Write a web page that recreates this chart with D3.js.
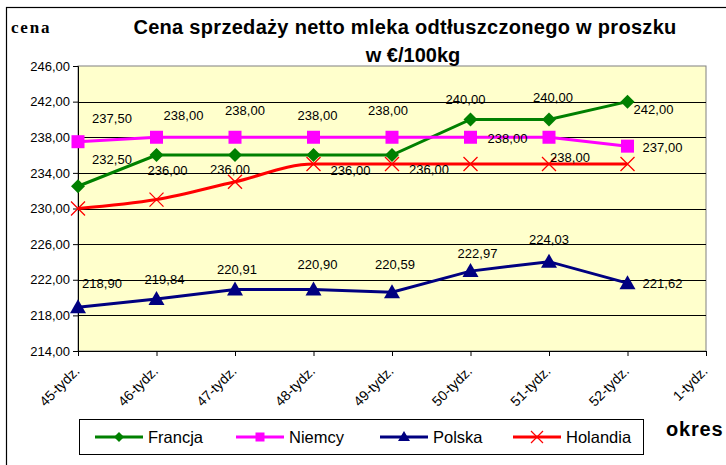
<!DOCTYPE html>
<html>
  <head>
    <meta charset="UTF-8" />
    <script src="https://d3js.org/d3.v7.min.js"></script>
    <style>
      body { margin: 0; background: #fff; }
      text { font-family: Arial, "Liberation Sans", sans-serif; }
    </style>
  </head>
  <body>
    <div id="chart"></div>

    <script>
      // categories and series
      var weeks = ["45-tydz.", "46-tydz.", "47-tydz.", "48-tydz.", "49-tydz.", "50-tydz.", "51-tydz.", "52-tydz.", "1-tydz."];
      var francja = [232.5, 236.0, 236.0, 236.0, 236.0, 240.0, 240.0, 242.0];
      var niemcy = [237.5, 238.0, 238.0, 238.0, 238.0, 238.0, 238.0, 237.0];
      var polska = [218.9, 219.84, 220.91, 220.9, 220.59, 222.97, 224.03, 221.62];
      var holandia = [230.0, 231.0, 233.0, 235.0, 235.0, 235.0, 235.0, 235.0];
      var yTicks = [214, 218, 222, 226, 230, 234, 238, 242, 246];

      // label placement (dx, dy from point), as moved by hand in the original
      var shiftFrancja = [[34, -27], [11, 15], [-5, 14], [37, 15], [37, 14], [-5, -20], [4, -22], [26, 8]];
      var shiftNiemcy = [[34, -23], [27, -22], [10, -27], [4, -22], [-4, -27], [37, 1], [21, 20], [35, 1]];
      var shiftPolska = [[24, -24], [8, -20], [2, -20], [4, -25], [3, -28], [7, -18], [0, -22], [35, 0]];

      var width = 726, height = 465;
      var plot = { left: 78, right: 706, top: 66, bottom: 351 };

      var svg = d3.select("#chart").append("svg")
        .attr("width", width)
        .attr("height", height);

      // outer frame
      svg.append("rect")
        .attr("x", 6.5).attr("y", 7.5)
        .attr("width", 740).attr("height", 480)
        .attr("fill", "#fff").attr("stroke", "#000").attr("stroke-width", 1.2);

      var x = d3.scalePoint().domain(weeks).range([plot.left, plot.right]);
      var y = d3.scaleLinear().domain([214, 246]).range([plot.bottom, plot.top]);
      var fmt = function (v) { return d3.format(".2f")(v).replace(".", ","); };

      // plot background
      svg.append("rect")
        .attr("x", plot.left).attr("y", plot.top)
        .attr("width", plot.right - plot.left).attr("height", plot.bottom - plot.top)
        .attr("fill", "#ffffcc")
        .attr("stroke", "#808080");

      // gridlines
      svg.append("g")
        .selectAll("line")
        .data(yTicks.slice(1, -1))
        .enter().append("line")
        .attr("x1", plot.left).attr("x2", plot.right)
        .attr("y1", function (d) { return Math.round(y(d)) + 0.5; })
        .attr("y2", function (d) { return Math.round(y(d)) + 0.5; })
        .attr("stroke", "#000").attr("stroke-width", 1);

      // y axis
      var yAxis = svg.append("g")
        .attr("transform", "translate(" + plot.left + ",0)")
        .call(d3.axisLeft(y).tickValues(yTicks).tickSize(5).tickPadding(3).tickFormat(fmt));
      yAxis.selectAll("text").attr("font-size", 13).attr("fill", "#000").style("font-family", "Arial");
      yAxis.selectAll("line, path").attr("stroke", "#000");

      // x axis
      var xAxis = svg.append("g")
        .attr("transform", "translate(0," + plot.bottom + ")")
        .call(d3.axisBottom(x).tickSize(5).tickSizeOuter(0));
      xAxis.selectAll("line, path").attr("stroke", "#000");
      xAxis.selectAll("text")
        .attr("font-size", 14)
        .attr("fill", "#000")
        .style("font-family", "Arial")
        .attr("text-anchor", "end")
        .attr("y", 0).attr("dy", 0)
        .attr("transform", "translate(2,21) rotate(-45)");

      var series = [
        { name: "Francja", values: francja, color: "#008000", marker: "diamond", curve: d3.curveLinear },
        { name: "Niemcy", values: niemcy, color: "#ff00ff", marker: "square", curve: d3.curveLinear },
        { name: "Polska", values: polska, color: "#000080", marker: "triangle", curve: d3.curveLinear },
        { name: "Holandia", values: holandia, color: "#ff0000", marker: "cross", curve: d3.curveMonotoneX }
      ];

      function drawMarker(g, type, color) {
        if (type === "diamond") {
          g.append("path").attr("d", "M0,-7L7,0L0,7L-7,0Z").attr("fill", color);
        } else if (type === "square") {
          g.append("rect").attr("x", -6.5).attr("y", -6.5).attr("width", 13).attr("height", 13).attr("fill", color);
        } else if (type === "triangle") {
          g.append("path").attr("d", "M0,-8L8,6L-8,6Z").attr("fill", color);
        } else {
          g.append("path").attr("d", "M-7,-7L7,7M-7,7L7,-7").attr("stroke", color).attr("stroke-width", 1.3).attr("fill", "none");
        }
      }

      series.forEach(function (s) {
        var line = d3.line()
          .x(function (d, i) { return x(weeks[i]); })
          .y(function (d) { return y(d); })
          .curve(s.curve);
        svg.append("path")
          .datum(s.values)
          .attr("d", line)
          .attr("fill", "none")
          .attr("stroke", s.color)
          .attr("stroke-width", 3);
        s.values.forEach(function (v, i) {
          var g = svg.append("g").attr("transform", "translate(" + x(weeks[i]) + "," + y(v) + ")");
          drawMarker(g, s.marker, s.color);
        });
      });

      // data labels
      function addLabels(values, shifts) {
        svg.append("g")
          .selectAll("text")
          .data(values)
          .enter().append("text")
          .attr("x", function (d, i) { return x(weeks[i]) + shifts[i][0]; })
          .attr("y", function (d, i) { return y(d) + shifts[i][1]; })
          .attr("dy", "0.35em")
          .attr("text-anchor", "middle")
          .attr("font-size", 13)
          .attr("fill", "#000")
          .text(fmt);
      }
      addLabels(francja, shiftFrancja);
      addLabels(niemcy, shiftNiemcy);
      addLabels(polska, shiftPolska);

      // titles
      svg.append("text")
        .attr("x", 405).attr("y", 34)
        .attr("text-anchor", "middle")
        .attr("font-size", 20).attr("font-weight", "bold")
        .attr("letter-spacing", 0.3)
        .text("Cena sprzedaży netto mleka odtłuszczonego w proszku");
      svg.append("text")
        .attr("x", 413).attr("y", 62)
        .attr("text-anchor", "middle")
        .attr("font-size", 20).attr("font-weight", "bold")
        .text("w €/100kg");
      svg.append("text")
        .attr("x", 11).attr("y", 33)
        .style("font-family", "'Liberation Serif', 'Times New Roman', serif")
        .attr("font-size", 17).attr("font-weight", "bold")
        .attr("letter-spacing", 1.8)
        .text("cena");
      svg.append("text")
        .attr("x", 666).attr("y", 436)
        .attr("font-size", 20).attr("font-weight", "bold")
        .attr("letter-spacing", 0.8)
        .text("okres");

      // legend
      var legend = svg.append("g");
      legend.append("rect")
        .attr("x", 79.5).attr("y", 419.5)
        .attr("width", 564).attr("height", 35)
        .attr("fill", "#fff").attr("stroke", "#000");
      var legendX = [95, 236, 380, 513];
      series.forEach(function (s, i) {
        var g = legend.append("g").attr("transform", "translate(" + legendX[i] + ",437)");
        g.append("line").attr("x1", 0).attr("x2", 48).attr("stroke", s.color).attr("stroke-width", 3);
        var m = g.append("g").attr("transform", "translate(24,0)");
        if (s.marker === "diamond") {
          m.append("path").attr("d", "M0,-5L5,0L0,5L-5,0Z").attr("fill", s.color);
        } else if (s.marker === "square") {
          m.append("rect").attr("x", -4.5).attr("y", -4.5).attr("width", 9).attr("height", 9).attr("fill", s.color);
        } else if (s.marker === "triangle") {
          m.append("path").attr("d", "M0,-6L6,4L-6,4Z").attr("fill", s.color);
        } else {
          m.append("path").attr("d", "M-6,-6L6,6M-6,6L6,-6").attr("stroke", s.color).attr("stroke-width", 1.2);
        }
        g.append("text")
          .attr("x", 53).attr("y", 0).attr("dy", "0.36em")
          .attr("font-size", 16.5)
          .attr("fill", "#000")
          .text(s.name);
      });
    </script>
  </body>
</html>
